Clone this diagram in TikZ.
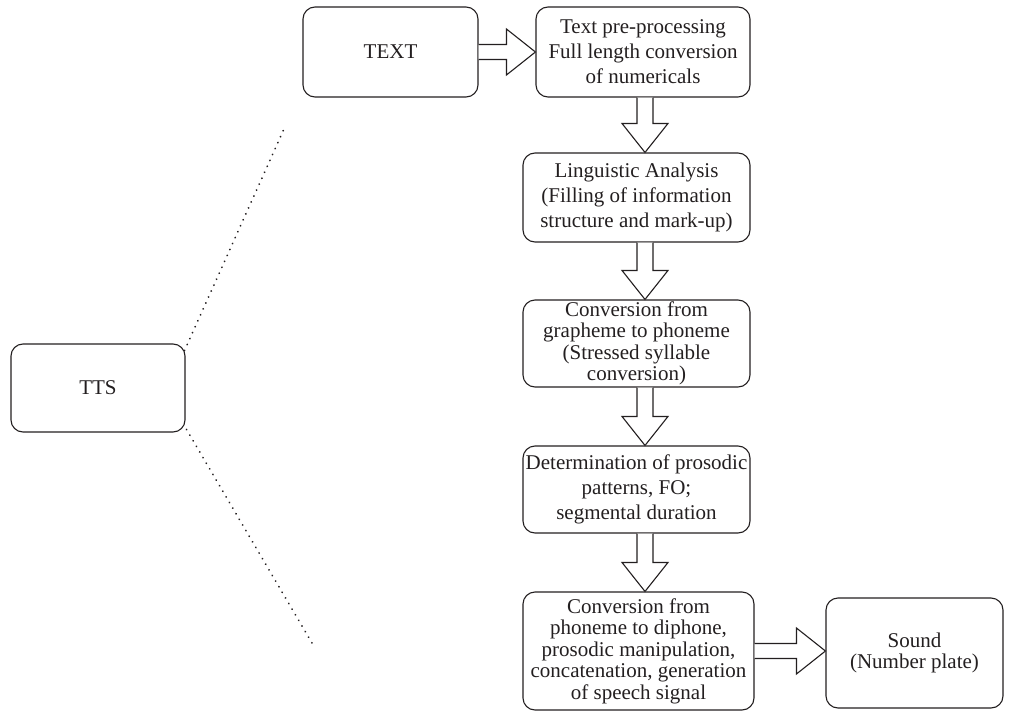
\documentclass[tikz,border=0pt]{standalone}
\usepackage{fontspec}
\setmainfont{Liberation Serif}
\usetikzlibrary{calc}
\definecolor{ink}{RGB}{35,31,32}
\newcommand{\vblk}[2]{%
 \draw[blk] let \p1=(ax |- #1.south), \p2=(ax |- #2.north) in
 (\x1-8pt,\y1) -- (\x1-8pt,\y2+29pt) -- (\x1-23pt,\y2+29pt) -- (\x1,\y2)
 -- (\x1+23pt,\y2+29pt) -- (\x1+8pt,\y2+29pt) -- (\x1+8pt,\y1);}
\newcommand{\hblk}[2]{%
 \draw[blk] let \p1=(#1.east), \p2=(#2.west |- #1.east) in
 (\x1,\y1+7.5pt) -- (\x2-29pt,\y1+7.5pt) -- (\x2-29pt,\y1+23pt) -- (\x2,\y1)
 -- (\x2-29pt,\y1-23pt) -- (\x2-29pt,\y1-7.5pt) -- (\x1,\y1-7.5pt);}
\begin{document}
\begin{tikzpicture}[x=1pt,y=-1pt,
  box/.style={draw=ink, line width=1.1pt, rounded corners=12pt, inner sep=0pt,
    align=center, text=ink, font=\fontsize{21}{25}\selectfont},
  tight/.style={font=\fontsize{21}{21.5}\selectfont},
  blk/.style={draw=ink, line width=1.1pt, fill=white, line join=miter},
  dots/.style={draw=ink, line width=2pt, dash pattern=on 0.01pt off 6.5pt, line cap=round}]
\useasboundingbox (0,0) rectangle (1010,712);
\coordinate (ax) at (645,0);
\node[box, minimum width=175pt, minimum height=90pt] (text) at (390.5,52) {TEXT};
\node[box, minimum width=214pt, minimum height=90pt] (pre) at (643,52)
  {Text pre-processing\\Full length conversion\\of numericals};
\node[box, minimum width=227pt, minimum height=89pt] (ling) at (636.5,197.5)
  {Linguistic Analysis\\(Filling of information\\structure and mark-up)};
\node[box, tight, minimum width=227pt, minimum height=87pt] (graph) at (636.5,343.5)
  {Conversion from\\grapheme to phoneme\\(Stressed syllable\\conversion)};
\node[box, minimum width=227pt, minimum height=87pt] (det) at (636.5,489.5)
  {Determination of prosodic\\patterns, FO;\\segmental duration};
\node[box, tight, minimum width=231pt, minimum height=118pt] (conv) at (638.5,651)
  {Conversion from\\phoneme to diphone,\\prosodic manipulation,\\concatenation, generation\\of speech signal};
\node[box, tight, minimum width=177pt, minimum height=110pt] (sound) at (914.5,653)
  {Sound\\(Number plate)};
\node[box, minimum width=174pt, minimum height=88pt] (tts) at (98,388) {TTS};
\hblk{text}{pre}
\vblk{pre}{ling}
\vblk{ling}{graph}
\vblk{graph}{det}
\vblk{det}{conv}
\hblk{conv}{sound}
\coordinate (d1) at (284,129);
\coordinate (d2) at (312,643);
\draw[dots] ([shift={(-1,7)}]tts.north east) -- (d1);
\draw[dots] ([shift={(1,-3)}]tts.south east) -- (d2);
\end{tikzpicture}
\end{document}
